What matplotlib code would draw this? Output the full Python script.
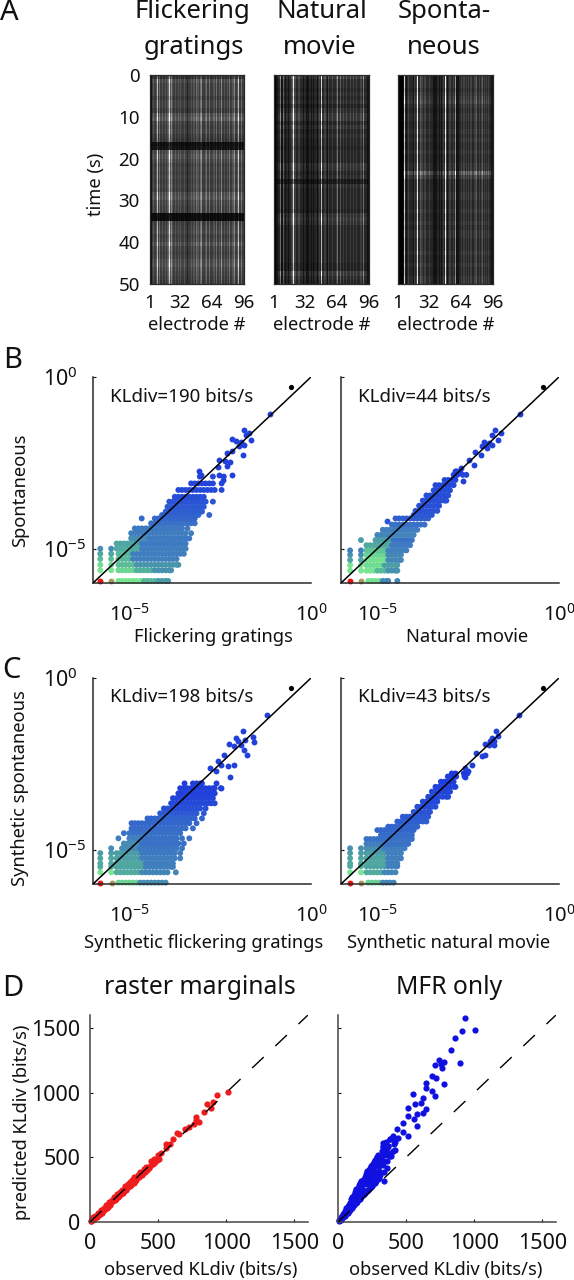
import numpy as np
import matplotlib
matplotlib.use('Agg')
import matplotlib.pyplot as plt
from matplotlib.colors import LinearSegmentedColormap, PowerNorm

plt.rcParams['font.family'] = ['Noto Sans', 'DejaVu Sans']
plt.rcParams['mathtext.fontset'] = 'custom'
plt.rcParams['mathtext.rm'] = 'Noto Sans'
plt.rcParams['mathtext.default'] = 'regular'

W, H = 574, 1280
DARK = '#2a2a2a'

# --- panel A: brightness read per electrode (0-9) and per time bin
el_flick = [1,1,3,4,3,3,4,8,3,5,3,3,4,3,3,4,3,4,5,9,4,6,4,3,3,4,3,3,4,3,4,3,3,3,4,3,3,2,3,3,3,4,3,4,4,3,5,9,4,4,3,5,6,3,3,3,4,5,3,3,5,3,3,3,4,4,3,5,3,3,4,3,6,3,3,4,3,3,4,3,5,3,3,4,4,6,3,3,4,8,3,3,5,3,3,2]
el_movie = [0,0,1,1,2,2,5,1,1,4,2,1,2,2,1,2,2,3,4,9,3,3,2,2,3,3,2,2,2,1,2,2,1,1,1,2,2,1,2,1,2,2,2,1,2,3,2,3,8,2,2,3,3,2,1,3,2,2,2,3,2,2,2,3,5,2,2,4,2,2,3,2,2,3,2,2,2,3,2,2,3,2,2,3,2,2,2,3,3,2,5,2,2,2,1,1]
el_spont = [0,0,0,0,0,1,8,2,1,2,3,2,2,2,2,1,3,2,3,9,2,2,4,3,3,2,3,3,2,2,2,3,2,2,2,1,1,1,1,2,2,1,2,1,2,3,2,3,9,3,1,2,3,3,2,2,3,2,6,1,1,1,2,2,3,2,3,3,2,3,2,3,2,3,3,2,2,3,3,4,2,2,3,2,3,4,2,3,2,3,2,3,2,2,1,1]
t_flick = [.7,1,.9,.9,.9,.8,.9,.9,.8,1.05,1.15,.9,.85,.9,.8,.75,.25,.3,.95,1.05,.95,.85,.9,.85,.9,.85,.9,.85,1.05,1.1,.95,.9,.9,.2,.2,.85,.9,.95,.85,.9,1.05,.9,.85,.9,1.0,1.05,.95,.9,.85,.8]
t_movie = [1.3,1,1,.9,1,.9,1,.8,1,1.2,1.2,.9,1.1,.9,1,.9,.9,.8,.9,.9,.9,1.15,1.1,.9,1.0,.6,1.0,.9,.9,.9,.9,.9,.8,1.1,1.2,1.1,.9,.9,.9,.9,.9,.9,.9,.9,.9,.8,.8,1.2,1.0,.9]
t_spont = [1,1,1,.9,1,1.1,1.2,1,.9,1,1,.9,.9,1,.9,1,.9,.9,1,.9,.9,1,1,1.6,1.15,.9,.9,.9,1,1,.9,.9,1,.9,.9,1,.9,1,1,.9,.9,.9,1,.9,.9,1,.9,.9,1,1]

# --- scatter panels, log10 of probability; one entry per row of dots
b1_y = [-5.94,-5.94,-5.94,-5.94,-5.94,-5.63,-5.63,-5.63,-5.63,-5.47,-5.47,-5.47,-5.3,-5.3,-5.3,-5.15,-5.15,-5.15,-5.0,-5.0,-5.0,-4.85,-4.85,-4.7,-4.7,-4.55,-4.41,-4.26,-4.12,-4.02,-3.92,-3.78,-3.63,-3.49,-3.29,-3.1,-2.9]
b1_c = [1.0,.85,.62,.45,.3,.62,.56,.42,.26,.58,.48,.28,.48,.46,.18,.36,.46,.17,.24,.4,.17,.36,.16,.24,.16,.17,.16,.14,.12,.11,.1,.09,.08,.06,.05,.04,.04]
b1_x = [[-5.8],[-5.5],[-5.3,-5.2,-5.1,-5.0,-4.9,-4.8,-4.7],[-4.6,-4.5,-4.4,-4.3],[-4.2,-4.1,-4.0,-3.93],
 [-5.8,-5.5],[-5.3,-5.2,-5.1,-5.0,-4.9],[-4.8,-4.7,-4.6,-4.5,-4.4],[-4.3,-4.2,-4.1,-4.0,-3.9,-3.85],
 [-5.8,-5.5],[-5.3,-5.2,-5.1,-5.0,-4.9],[-4.8,-4.7,-4.6,-4.5,-4.4,-4.3,-4.2,-4.1,-4.0,-3.9,-3.8,-3.7,-3.65],
 [-5.8,-5.5],[-5.3,-5.2,-5.1,-5.0],[-4.9,-4.8,-4.7,-4.6,-4.5,-4.4,-4.3,-4.2,-4.1,-4.0,-3.9,-3.8,-3.7],
 [-5.8,-5.5],[-5.3,-5.2,-5.1,-5.0],[-4.9,-4.8,-4.7,-4.6,-4.5,-4.4,-4.3,-4.2,-4.1,-4.0,-3.9,-3.8,-3.7,-3.6,-3.5],
 [-5.8,-5.5],[-5.35,-5.25,-5.15,-5.05,-4.95,-4.85,-4.75],[-4.65,-4.55,-4.45,-4.35,-4.25,-4.15,-4.05,-3.95,-3.85,-3.75,-3.65,-3.55,-3.45],
 [-5.35,-5.25,-5.15,-5.05,-4.95,-4.85,-4.75],[-4.65,-4.55,-4.45,-4.35,-4.25,-4.15,-4.05,-3.95,-3.85,-3.75,-3.65,-3.55,-3.45],
 [-4.95,-4.85,-4.75,-4.65,-4.55],[-4.45,-4.35,-4.25,-4.15,-4.05,-3.95,-3.85,-3.75,-3.65,-3.55,-3.45,-3.35],
 [-4.95,-4.85,-4.75,-4.65,-4.55,-4.45,-4.35,-4.25,-4.15,-4.05,-3.95,-3.85,-3.75,-3.65,-3.55,-3.45,-3.3],
 [-4.85,-4.75,-4.65,-4.55,-4.45,-4.35,-4.25,-4.15,-4.05,-3.95,-3.85,-3.75,-3.65,-3.55,-3.4],
 [-4.4,-4.3,-4.2,-4.1,-4.0,-3.9,-3.8,-3.7,-3.6,-3.5,-3.4,-3.3,-3.2],
 [-4.66,-4.3,-4.2,-4.1,-4.0,-3.9,-3.8,-3.7,-3.6,-3.5,-3.4,-3.3,-3.2],
 [-4.1,-4.0,-3.9,-3.8,-3.7,-3.6,-3.5,-3.4,-3.3,-3.2,-3.1,-2.8],
 [-4.0,-3.9,-3.8,-3.7,-3.6,-3.5,-3.4,-3.3,-3.2,-3.1,-3.0],
 [-3.95,-3.85,-3.75,-3.65,-3.55,-3.45,-3.35,-3.25,-3.15,-3.05,-2.95],
 [-3.9,-3.8,-3.7,-3.6,-3.5,-3.4,-3.3,-3.2,-3.1,-3.0,-2.9,-2.7],
 [-3.75,-3.65,-3.55,-3.45,-3.35,-3.25,-3.15,-3.05,-2.95],
 [-3.65,-3.55,-3.45,-3.35,-3.25,-3.15,-3.05,-2.95,-2.85,-2.75,-2.65,-2.46],
 [-3.3,-3.2,-3.1,-3.0,-2.9,-2.8,-2.7,-2.46],
 [-3.06,-2.7,-2.4]]
b1_top_x = [-1.13,-1.84,-1.72,-1.8,-1.64,-2.17,-2.07,-1.92,-1.84,-1.97,-1.87,-2.17,-2.32,-2.54,-2.37,-2.24,-2.3,-2.57,-3.08,-3.03,-2.52,-2.17,-2.42]
b1_top_y = [-1.08,-1.53,-1.63,-1.68,-1.83,-1.81,-1.87,-1.89,-1.97,-2.02,-2.26,-2.16,-2.21,-2.41,-2.46,-2.48,-2.6,-2.63,-2.75,-2.86,-2.84,-2.86,-2.99]

b2_y = [-5.94,-5.94,-5.94,-5.94,-5.64,-5.64,-5.64,-5.64,-5.48,-5.48,-5.48,-5.33,-5.33,-5.33,-5.18,-5.18,-5.18,-5.05,-5.05,-5.05,-4.9,-4.9,-4.75,-4.75,-4.6,-4.45,-4.3,-4.2,-4.12,-4.02,-3.9,-3.75,-3.6,-3.45,-3.3,-3.15,-3.0,-2.85,-2.75]
b2_c = [1.0,.85,.6,.2,.62,.62,.46,.26,.62,.58,.32,.36,.6,.22,.26,.56,.22,.18,.5,.18,.38,.16,.32,.14,.2,.17,.14,.08,.1,.09,.08,.07,.07,.06,.06,.05,.04,.04,.03]
b2_x = [[-5.75],[-5.45],[-5.25,-5.15,-5.05,-4.95],[-4.85,-4.75,-4.7,-4.45],
 [-5.75,-5.45],[-5.3,-5.2,-5.1],[-5.0,-4.9,-4.8],[-4.7,-4.6,-4.5,-4.45],
 [-5.75,-5.45],[-5.3,-5.2,-5.1,-5.0,-4.9],[-4.8,-4.7,-4.6,-4.5,-4.45],
 [-5.75,-5.45],[-5.3,-5.2,-5.1,-5.0,-4.9,-4.8],[-4.7,-4.6,-4.5,-4.4,-4.35],
 [-5.75,-5.45],[-5.3,-5.2,-5.1,-5.0,-4.9,-4.8],[-4.7,-4.6,-4.5,-4.4,-4.35],
 [-5.75,-5.45],[-5.3,-5.2,-5.1,-5.0,-4.9,-4.8],[-4.7,-4.6,-4.5,-4.4,-4.3,-4.2],
 [-5.3,-5.2,-5.1,-5.0,-4.9,-4.8,-4.7],[-4.6,-4.5,-4.4,-4.3,-4.2,-4.1],
 [-5.45,-5.05,-4.95,-4.85,-4.75,-4.65],[-4.55,-4.45,-4.35,-4.25,-4.15,-4.05],
 [-5.0,-4.9,-4.8,-4.7,-4.6,-4.5,-4.4,-4.3,-4.2,-4.1,-4.0],
 [-4.85,-4.75,-4.65,-4.55,-4.45,-4.35,-4.25,-4.15,-4.05,-3.95,-3.9],
 [-4.6,-4.5,-4.4,-4.3,-4.2,-4.1,-4.0,-3.9,-3.8,-3.7],
 [-4.73],
 [-4.5,-4.4,-4.3,-4.2,-4.1,-4.0,-3.9,-3.8,-3.7,-3.6],
 [-4.0,-3.9,-3.8,-3.7,-3.6,-3.5],
 [-3.95,-3.85,-3.75,-3.65,-3.55,-3.45,-3.35],
 [-3.85,-3.75,-3.65,-3.55,-3.45,-3.35,-3.3],
 [-3.75,-3.65,-3.55,-3.45,-3.35,-3.25,-3.15,-3.1],
 [-3.65,-3.55,-3.45,-3.35,-3.25,-3.15,-3.05],
 [-3.45,-3.35,-3.25,-3.15,-3.05,-3.0],
 [-3.4,-3.3,-3.2,-3.1,-3.0,-2.9],
 [-3.15,-3.05,-2.95,-2.85],
 [-2.9,-2.8,-2.65,-2.55],
 [-2.82,-2.72]]
b2_top_x = [-1.06,-1.77,-1.6,-1.84,-1.69,-2.07,-1.94,-1.84,-2.11,-1.99,-2.31,-2.14,-2.49,-2.34,-2.69,-2.86,-2.64,-2.9,-2.78]
b2_top_y = [-1.08,-1.53,-1.63,-1.68,-1.83,-1.89,-1.92,-1.97,-2.02,-2.07,-2.18,-2.26,-2.41,-2.55,-2.65,-2.75,-3.04,-2.9,-2.8]

c1_y = [-5.96,-5.96,-5.96,-5.96,-5.66,-5.66,-5.66,-5.5,-5.5,-5.5,-5.4,-5.4,-5.25,-5.25,-5.25,-5.1,-5.1,-5.1,-4.96,-4.96,-4.82,-4.82,-4.67,-4.67,-4.52,-4.38,-4.23,-4.09,-3.94,-3.8,-3.65,-3.5,-3.36,-3.21,-3.07]
c1_c = [1.0,.85,.56,.24,.62,.4,.2,.42,.36,.18,.38,.17,.36,.34,.17,.3,.32,.16,.24,.15,.24,.14,.18,.14,.14,.13,.12,.11,.09,.07,.05,.04,.03,.02,.02]
c1_x = [[-5.8],[-5.47],[-5.3,-5.2,-5.1,-5.0,-4.9,-4.8],[-4.7,-4.6,-4.5,-4.4,-4.3,-4.2,-4.1,-4.0],
 [-5.8,-5.5],[-5.35,-5.25,-5.15,-5.05,-4.95,-4.85,-4.75],[-4.65,-4.55,-4.45,-4.35,-4.25,-4.15,-4.05,-3.95,-3.72],
 [-5.8,-5.5],[-5.35,-5.25,-5.15,-5.05,-4.95,-4.85,-4.75,-4.65],[-4.55,-4.45,-4.35,-4.25,-4.15,-4.05,-3.95,-3.85,-3.8],
 [-5.8,-5.5,-5.35,-5.25,-5.15,-5.05,-4.95,-4.85,-4.75,-4.65],[-4.55,-4.45,-4.35,-4.25,-4.15,-4.05,-3.95,-3.85,-3.8],
 [-5.8,-5.5],[-5.35,-5.25,-5.15,-5.05,-4.95,-4.85,-4.75],[-4.65,-4.55,-4.45,-4.35,-4.25,-4.15,-4.05,-3.95,-3.85,-3.75,-3.6],
 [-5.8,-5.5],[-5.35,-5.25,-5.15,-5.05,-4.95,-4.85,-4.75],[-4.65,-4.55,-4.45,-4.35,-4.25,-4.15,-4.05,-3.95,-3.85,-3.75,-3.6],
 [-5.5,-5.2,-5.1,-5.0,-4.9,-4.8],[-4.7,-4.6,-4.5,-4.4,-4.3,-4.2,-4.1,-4.0,-3.9,-3.8,-3.7,-3.55],
 [-5.15,-5.05,-4.95,-4.85,-4.75],[-4.65,-4.55,-4.45,-4.35,-4.25,-4.15,-4.05,-3.95,-3.85,-3.75,-3.65,-3.5],
 [-5.3,-5.0,-4.9,-4.8,-4.7],[-4.6,-4.5,-4.4,-4.3,-4.2,-4.1,-4.0,-3.9,-3.8,-3.7,-3.55,-3.35],
 [-5.15,-5.0,-4.9,-4.8,-4.7,-4.6,-4.5,-4.4,-4.3,-4.2,-4.1,-4.0,-3.9,-3.8,-3.7,-3.6],
 [-4.94,-4.85,-4.75,-4.65,-4.55,-4.45,-4.35,-4.25,-4.15,-4.05,-3.95,-3.85,-3.75,-3.65,-3.55,-3.45,-3.25],
 [-4.94,-4.85,-4.75,-4.65,-4.55,-4.45,-4.35,-4.25,-4.15,-4.05,-3.95,-3.85,-3.75,-3.65,-3.55,-3.45,-3.35,-3.15],
 [-4.5,-4.4,-4.3,-4.2,-4.1,-4.0,-3.9,-3.8,-3.7,-3.6,-3.5,-3.4,-3.3,-3.2,-3.0],
 [-4.15,-4.05,-3.95,-3.85,-3.75,-3.65,-3.55,-3.45,-3.35,-3.25,-3.15,-2.95],
 [-4.05,-3.95,-3.85,-3.75,-3.65,-3.55,-3.45,-3.35,-3.25,-3.15,-3.05,-2.9],
 [-3.85,-3.75,-3.65,-3.55,-3.45,-3.35,-3.25,-3.15,-3.05,-2.95,-2.85,-2.75,-2.65],
 [-3.8,-3.7,-3.6,-3.5,-3.4,-3.3,-3.2,-3.1,-3.0,-2.9,-2.8,-2.7],
 [-3.65,-3.55,-3.45,-3.35,-3.25,-3.15,-3.05,-2.95,-2.85,-2.75,-2.65],
 [-3.6,-3.5,-3.4,-3.3,-3.2,-3.1,-3.0,-2.9,-2.8,-2.7,-2.65,-2.48],
 [-3.48,-3.25,-3.15,-3.05,-3.0,-2.6]]
c1_top_x = [-1.21,-1.88,-2.06,-2.26,-1.82,-1.6,-1.58,-2.0,-1.92,-1.84,-1.75,-2.11,-2.4,-2.57,-2.47,-2.29,-2.11,-2.24,-2.77,-2.62,-2.47]
c1_top_y = [-1.09,-1.53,-1.75,-1.92,-1.8,-1.72,-1.86,-1.84,-1.96,-2.09,-2.23,-1.99,-2.23,-2.41,-2.52,-2.57,-2.52,-2.89,-2.62,-2.72,-3.2]

c2_y = [-5.96,-5.96,-5.96,-5.96,-5.66,-5.66,-5.66,-5.48,-5.48,-5.48,-5.4,-5.4,-5.25,-5.25,-5.1,-5.1,-4.96,-4.96,-4.83,-4.83,-4.69,-4.57,-4.43,-4.33,-4.18,-4.04,-3.9,-3.75,-3.6,-3.46,-3.31,-3.17,-3.02,-2.87,-2.78]
c2_c = [1.0,.85,.54,.2,.62,.4,.2,.4,.34,.17,.38,.18,.36,.18,.32,.17,.26,.17,.18,.14,.14,.13,.12,.11,.1,.09,.08,.06,.05,.05,.04,.03,.02,.02,.01]
c2_x = [[-5.75],[-5.45],[-5.25,-5.15,-5.05,-4.95],[-4.85,-4.75,-4.65,-4.55],
 [-5.75,-5.45],[-5.3,-5.2,-5.1,-5.0,-4.9],[-4.8,-4.7,-4.6,-4.5],
 [-5.75,-5.45],[-5.3,-5.2,-5.1,-5.0,-4.9,-4.8],[-4.7,-4.6,-4.5,-4.45],
 [-5.75,-5.45,-5.3,-5.2,-5.1,-5.0,-4.9,-4.8],[-4.7,-4.6,-4.5,-4.45],
 [-5.75,-5.45,-5.3,-5.2,-5.1,-5.0,-4.9,-4.8],[-4.7,-4.6,-4.5,-4.4,-4.35],
 [-5.75,-5.45,-5.3,-5.2,-5.1,-5.0,-4.9,-4.8],[-4.7,-4.6,-4.5,-4.4,-4.35],
 [-5.75,-5.45,-5.3,-5.2,-5.1,-5.0,-4.9],[-4.8,-4.7,-4.6,-4.5,-4.4,-4.3,-4.25],
 [-5.3,-5.2,-5.1,-5.0,-4.9],[-4.8,-4.7,-4.6,-4.5,-4.4,-4.3,-4.2,-4.15],
 [-5.3,-5.2,-5.1,-5.0,-4.9,-4.8,-4.7,-4.6,-4.5,-4.4,-4.3,-4.2,-4.1,-4.05],
 [-4.9,-4.8,-4.7,-4.6,-4.5,-4.4,-4.3,-4.2,-4.1,-4.05],
 [-5.0,-4.9,-4.8,-4.7,-4.6,-4.5,-4.4,-4.3,-4.2,-4.1,-4.0],
 [-4.7,-4.6,-4.5,-4.4,-4.3,-4.2,-4.1,-4.0,-3.9],
 [-4.45,-4.35,-4.25,-4.15,-4.05,-3.95,-3.85,-3.75,-3.65],
 [-4.3,-4.2,-4.1,-4.0,-3.9,-3.8,-3.7,-3.6],
 [-4.0,-3.9,-3.8,-3.7,-3.6,-3.55],
 [-3.9,-3.8,-3.7,-3.6,-3.5,-3.4],
 [-3.75,-3.65,-3.55,-3.45,-3.35],
 [-3.6,-3.5,-3.4,-3.3,-3.2,-3.1,-3.05],
 [-3.5,-3.4,-3.3,-3.2,-3.1,-3.0],
 [-3.4,-3.3,-3.2,-3.1,-3.0,-2.9,-2.85],
 [-3.25,-3.15,-3.05,-2.95,-2.9],
 [-3.06,-2.95,-2.83,-2.6],
 [-2.95,-2.85,-2.62,-2.52]]
c2_top_x = [-1.1,-1.74,-1.67,-1.84,-2.04,-1.94,-1.79,-2.29,-2.11,-2.04,-2.59,-2.39,-2.59,-2.5,-1.9,-1.78]
c2_top_y = [-1.09,-1.53,-1.7,-1.75,-1.91,-1.94,-1.84,-2.18,-2.28,-2.23,-2.62,-2.52,-2.89,-2.72,-1.83,-1.95]

# probability of the single most frequent pattern (black dot)
black_x = [-.55,-.43,-.55,-.43]
black_y = [-.28,-.28,-.29,-.29]

kl_labels = ['KLdiv=190 bits/s','KLdiv=44 bits/s','KLdiv=198 bits/s','KLdiv=43 bits/s']

# --- panel D, bits/s
d1_obs = [5,10,15,20,25,30,40,45,50,60,65,70,80,85,90,100,105,110,120,125,130,140,145,150,160,170,175,180,190,200,205,210,220,230,235,240,250,260,265,270,280,290,295,300,310,320,325,330,340,350,360,370,380,390,395,400,410,420,430,440,450,460,470,480,490,500,510,520,560,560,590,610,640,650,700,730,760,780,780,800,840,860,890,900,930,1010]
d1_pred = [10,5,20,15,35,22,50,35,42,70,55,60,90,72,80,112,92,100,132,112,118,155,130,140,172,160,190,168,178,215,190,198,235,218,250,226,238,275,250,260,295,275,310,285,325,303,345,315,325,365,345,385,360,375,410,385,425,400,415,430,470,445,490,465,480,515,490,535,600,570,600,640,690,680,720,735,760,810,790,770,850,915,880,930,985,1005]

d2_obs = [5,10,15,20,25,30,35,40,45,50,55,60,65,70,75,80,85,90,95,100,105,110,115,120,125,130,135,140,145,150,155,160,165,170,175,180,185,190,195,200,205,210,215,220,225,230,235,240,245,250,255,260,265,270,275,280,285,290,295,300,310,320,330,340,350,360,370,380,390,400,250,220,190,160,130,100,270,300,330,360]
d2_pred = [8,15,25,18,40,30,55,42,70,50,85,62,100,72,125,88,150,95,175,110,190,120,205,130,230,145,250,155,265,170,285,180,300,190,315,205,325,215,345,225,370,240,385,250,400,255,415,270,435,280,450,295,465,305,480,315,500,330,510,340,360,545,590,385,620,420,590,640,510,660,350,330,290,240,215,150,390,430,470,520]
d2_mid_obs = [40,50,60,70,80,90,100,110,120,130,140,150,160,170,180,190,200,210,220,230,240,250,260,270,280,290,300,310,320,330,340,350,360,370,60,90,120,150,180,210,240,270,300,330,360,390,410,420,440,130,170,210,250,290,330]
d2_mid_pred = [62,80,95,115,135,150,165,185,190,215,235,245,265,280,290,310,320,340,350,370,385,400,410,430,440,460,470,490,500,520,535,550,570,590,110,135,170,205,250,290,320,360,395,440,475,530,600,560,650,255,320,395,440,520,610]
d2_top_obs = [930,912,1005,858,831,893,743,710,756,775,764,689,716,643,649,777,689,710,547,622,609,568,515,649,622,582,515,555,582,475,434,475,515,407,381,421,327,287,381,407,340]
d2_top_pred = [1577,1480,1482,1423,1333,1228,1251,1215,1218,1236,1192,1128,1115,1077,1038,1064,1013,974,987,962,923,910,885,872,846,833,821,795,744,769,718,692,667,667,641,615,577,500,513,551,320]

d_ticks = [0,500,1000,1500]

cmap = LinearSegmentedColormap.from_list('dens', [(0,'#1c36dc'),(.08,'#2a55d5'),(.16,'#3f7cc0'),(.3,'#4a9aa8'),(.45,'#55b59a'),(.62,'#78e690'),(.85,'#a89a60'),(1,'#ee1010')])

fig = plt.figure(figsize=(W/100, H/100), dpi=100)

def add_ax(l, t, r, b):
    return fig.add_axes([l/W, 1-b/H, (r-l)/W, (b-t)/H])

def txt(x, y, s, size=13.2, ha='center', rot=0):
    fig.text(x/W, 1-y/H, s, fontsize=size, ha=ha, va='center', rotation=rot, color='#111111')

def raster(l, el, t, show_y):
    ax = add_ax(l, 75, l+94.5, 284)
    img = np.outer(np.array(t), np.array(el))
    ax.imshow(img, cmap='gray', norm=PowerNorm(1.15, vmin=0, vmax=9.5), aspect='auto', interpolation='nearest', extent=[1,96,50,0])
    ax.set_xticks([1,32,64,96])
    ax.set_yticks([0,10,20,30,40,50])
    if not show_y:
        ax.set_yticklabels([])
    ax.tick_params(length=0, labelsize=13.5, pad=7, colors='#111111')
    for s in ax.spines.values():
        s.set_color(DARK)
        s.set_linewidth(.9)
    return ax

def scatter_panel(l, t, rows_y, rows_c, rows_x, top_x, top_y, bx, by, label, show_y, label_y):
    ax = add_ax(l, t, l+218, t+206)
    for y, c, xs in zip(rows_y, rows_c, rows_x):
        ax.scatter(10.0**np.array(xs), np.full(len(xs), 10.0**y), s=18, c=[cmap(float(c))]*len(xs), linewidths=0, clip_on=False, zorder=2)
    ax.scatter(10.0**np.array(top_x), 10.0**np.array(top_y), s=18, c=[cmap(.03)], linewidths=0, zorder=2)
    ax.scatter([10.0**bx], [10.0**by], s=14, c='black', linewidths=0, zorder=4)
    ax.plot([1e-6,1], [1e-6,1], color='black', lw=1.1, zorder=3)
    ax.set_xscale('log')
    ax.set_yscale('log')
    ax.set_xlim(1e-6, 1)
    ax.set_ylim(1e-6, 1)
    ax.minorticks_off()
    ax.set_xticks([1e-5, 1])
    ax.set_xticklabels(['$10^{-5}$', '$10^{0}$'])
    ax.set_yticks([1e-5, 1])
    if show_y:
        ax.set_yticklabels(['$10^{-5}$', '$10^{0}$'], ha='left')
    else:
        ax.set_yticklabels([])
    ax.tick_params(axis='x', length=0, labelsize=14.5, pad=15, colors='#111111')
    ax.tick_params(axis='y', direction='in', length=2, width=.8, labelsize=15.5, pad=36, colors='#111111')
    for s in ['top','right']:
        ax.spines[s].set_visible(False)
    for s in ['left','bottom']:
        ax.spines[s].set_color(DARK)
        ax.spines[s].set_linewidth(1.1)
    fig.text((l+17)/W, 1-label_y/H, label, fontsize=13.5, va='center', color='#111111')
    return ax

def kl_panel(l, xs_list, ys_list, color, show_y):
    ax = add_ax(l, 1015, l+218, 1222)
    for xs, ys in zip(xs_list, ys_list):
        ax.scatter(xs, ys, s=20, color=color, linewidths=0, clip_on=False, zorder=2)
    ax.plot([0,1600], [0,1600], color='black', lw=1, dashes=(11.5,11.5), zorder=3)
    ax.set_xlim(0, 1600)
    ax.set_ylim(0, 1600)
    ax.set_xticks(d_ticks)
    ax.set_yticks(d_ticks)
    if not show_y:
        ax.set_yticklabels([])
    ax.tick_params(direction='in', length=2, width=.8, labelsize=15.5, colors='#111111')
    ax.tick_params(axis='x', pad=8)
    ax.tick_params(axis='y', pad=7)
    for s in ['top','right']:
        ax.spines[s].set_visible(False)
    for s in ['left','bottom']:
        ax.spines[s].set_color('#444444')
        ax.spines[s].set_linewidth(1.1)
    return ax

# =============================================================================
# A: rasters
# =============================================================================
raster(149.5, el_flick, t_flick, True)
raster(274, el_movie, t_movie, False)
raster(398, el_spont, t_spont, False)
for x, a, b in [(192,'Flickering','gratings'),(322,'Natural','movie'),(444,'Sponta-','neous')]:
    txt(x, 12, a, 18.5)
    txt(x+2 if x == 192 else x-2 if x == 322 else x, 47, b, 18.5)
for x in [197,322,446]:
    txt(x, 325, 'electrode #')
txt(96, 184, 'time (s)', rot=90)

# =============================================================================
# B, C: pattern probabilities
# =============================================================================
scatter_panel(93, 377, b1_y, b1_c, b1_x, b1_top_x, b1_top_y, black_x[0], black_y[0], kl_labels[0], True, 397)
scatter_panel(341, 377, b2_y, b2_c, b2_x, b2_top_x, b2_top_y, black_x[1], black_y[1], kl_labels[1], False, 397)
scatter_panel(93, 678, c1_y, c1_c, c1_x, c1_top_x, c1_top_y, black_x[2], black_y[2], kl_labels[2], True, 697)
scatter_panel(341, 678, c2_y, c2_c, c2_x, c2_top_x, c2_top_y, black_x[3], black_y[3], kl_labels[3], False, 697)
txt(213, 637, 'Flickering gratings')
txt(467, 637, 'Natural movie')
txt(204, 943, 'Synthetic flickering gratings')
txt(449, 943, 'Synthetic natural movie')
txt(20, 490, 'Spontaneous', rot=90)
txt(20, 788, 'Synthetic spontaneous', rot=90)

# =============================================================================
# D: predicted vs observed KLdiv
# =============================================================================
kl_panel(90, [d1_obs], [d1_pred], '#ee1c1c', True)
kl_panel(338, [d2_obs, d2_mid_obs, d2_top_obs], [d2_pred, d2_mid_pred, d2_top_pred], '#1010e0', False)
txt(200, 987, 'raster marginals', 17.8)
txt(449, 987, 'MFR only', 17.8)
txt(201, 1270, 'observed KLdiv (bits/s)')
txt(446, 1270, 'observed KLdiv (bits/s)')
txt(22, 1122, 'predicted KLdiv (bits/s)', rot=90)

# panel letters
for x, y, s in [(0,13,'A'),(3,360,'B'),(2,670,'C'),(2,988,'D')]:
    txt(x, y, s, 21, ha='left')

fig.savefig('out.png', dpi=100)
